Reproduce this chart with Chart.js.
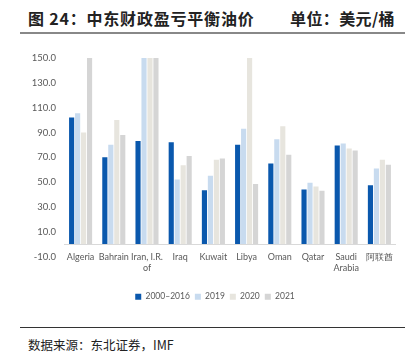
<!DOCTYPE html>
<html>
<head>
<meta charset="utf-8">
<script src="https://cdn.jsdelivr.net/npm/chart.js@4/dist/chart.umd.min.js"></script>
<style>
  body { margin: 0; width: 416px; height: 362px; background: #fff; position: relative; overflow: hidden; }
  .title { position: absolute; top: 6px; left: 28px; font: bold 16px "Noto Sans CJK SC"; color: #222; white-space: pre; letter-spacing: 0.8px; }
  .unit { position: absolute; top: 6px; left: 290px; font: bold 16px "Noto Sans CJK SC"; color: #222; letter-spacing: 0.4px; }
  .rule { position: absolute; left: 20px; width: 385px; height: 1px; }
  .src { position: absolute; top: 335px; left: 28px; font: 12.5px "Noto Sans CJK SC"; color: #222; }
  #wrap { position: absolute; left: 0; top: 43px; width: 416px; height: 268px; }
</style>
</head>
<body>
<div class="title">图 24：中东财政盈亏平衡油价</div>
<div class="unit">单位：美元/桶</div>
<div class="rule" style="top:32px;background:#888;height:2px"></div>
<div id="wrap"><canvas id="chart"></canvas></div>
<div class="rule" style="top:327px;background:#333"></div>
<div class="src">数据来源：东北证券，IMF</div>
<script>
// categories and series
var countries = ["Algeria", "Bahrain", ["Iran, I.R.", "of"], "Iraq", "Kuwait", "Libya", "Oman", "Qatar", ["Saudi", "Arabia"], "阿联酋"];
var seriesNames = ["2000–2016", "2019", "2020", "2021"];
var avg2000 = [102, 70, 83, 82, 43.5, 80, 65, 44, 79.5, 47.5];
var y2019 = [105.5, 80, 150, 52, 55, 93, 84.5, 49.5, 81, 61];
var y2020 = [90, 100, 150, 63.5, 68, 150, 95, 46.5, 77, 68];
var y2021 = [150, 88, 150, 71, 69, 48.5, 72, 43, 75.5, 64];
var colours = ["#0a58ad", "#c8dbef", "#e7e5de", "#d5d5d5"];

var seriesData = [avg2000, y2019, y2020, y2021];
var datasets = seriesData.map(function (vals, i) {
  return {
    label: seriesNames[i],
    data: vals,
    backgroundColor: colours[i],
    categoryPercentage: 0.72,
    barPercentage: 0.86
  };
});

// x-axis line drawn at zero, like the source
var zeroLine = {
  id: "zeroLine",
  afterLayout: function (chart) {
    // category labels sit a little higher, tucked under the plot bottom
    chart.scales.x.top -= 5;
  },
  afterDatasetsDraw: function (chart) {
    var ctx = chart.ctx;
    var y = Math.round(chart.scales.y.getPixelForValue(0)) + 0.5;
    ctx.save();
    ctx.strokeStyle = "#d9d9d9";
    ctx.lineWidth = 1;
    ctx.beginPath();
    ctx.moveTo(chart.chartArea.left, y);
    ctx.lineTo(chart.chartArea.right, y);
    ctx.stroke();
    ctx.restore();
  }
};

var tickFont = { family: "Lato, sans-serif", size: 9.5 };
var catFont = { family: "Lato, sans-serif", size: 9 };
var legendFont = { family: "Lato, sans-serif", size: 8.5 };

new Chart(document.getElementById("chart").getContext("2d"), {
  type: "bar",
  data: { labels: countries, datasets: datasets },
  options: {
    responsive: true,
    maintainAspectRatio: false,
    animation: false,
    layout: { padding: { top: 15, left: 20, right: 6, bottom: 0 } },
    plugins: {
      legend: {
        position: "bottom",
        labels: {
          boxWidth: 6,
          boxHeight: 6,
          padding: 5,
          color: "#595959",
          font: legendFont
        }
      },
      tooltip: { enabled: false }
    },
    scales: {
      x: {
        grid: { display: false, drawTicks: false },
        border: { display: false },
        ticks: { color: "#595959", font: catFont, padding: 0, maxRotation: 0, autoSkip: false },
        afterFit: function (s) { s.height = 31; s.paddingLeft = 0; s.paddingRight = 20; }
      },
      y: {
        min: -10,
        max: 150,
        grid: { display: false, drawTicks: false },
        border: { display: false },
        ticks: {
          stepSize: 20,
          color: "#595959",
          font: tickFont,
          padding: 8,
          callback: function (v) { return v.toFixed(1); }
        },
        afterFit: function (s) { s.width = 44; }
      }
    }
  },
  plugins: [zeroLine]
});
</script>
</body>
</html>
